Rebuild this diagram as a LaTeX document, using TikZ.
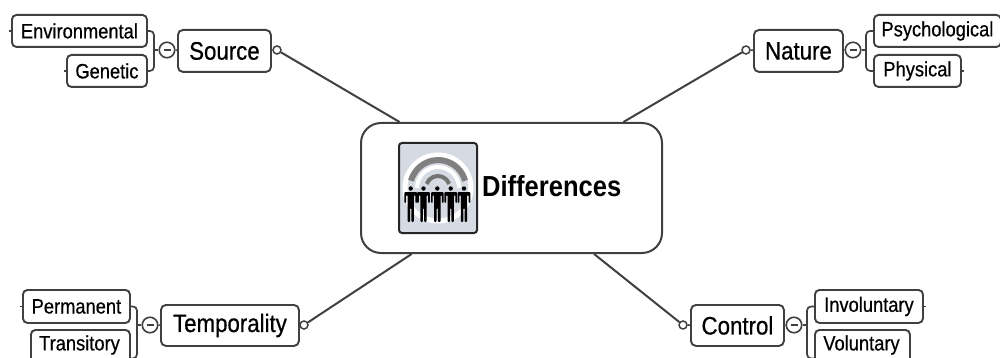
\documentclass[tikz,border=0pt]{standalone}
\usepackage{fontspec}
\setmainfont[FakeStretch=0.88]{Liberation Sans}
\newfontfamily\labelfont[FakeBold=0.6,FakeStretch=0.88]{Liberation Sans}
\definecolor{ink}{HTML}{404040}
\definecolor{iconbg}{HTML}{D6DAE2}
\tikzset{
  x=1pt,y=-1pt,
  box/.style={draw=ink,line width=1.9pt,rounded corners=4.5pt,fill=white,inner sep=0pt,text=black,anchor=north west},
  leaflabel/.style={box,font=\labelfont\fontsize{20.8}{22}\selectfont},
  mainlabel/.style={box,font=\labelfont\fontsize{25.3}{27}\selectfont,rounded corners=5pt},
  conn/.style={draw=ink,line width=1.6pt},
  link/.style={draw=ink,line width=2pt},
  bracket/.style={draw=ink,line width=1.7pt,rounded corners=4pt},
  tick/.style={draw=ink,line width=1.4pt},
  dotnode/.style={circle,draw=ink,line width=1.5pt,fill=white,minimum size=8pt,inner sep=0pt},
  minusnode/.style={circle,draw=ink,line width=1.6pt,fill=white,minimum size=15.5pt,inner sep=0pt},
  bar/.style={draw=ink,line width=2pt},
  person/.pic={
    \fill[black] (0,-15.5) circle (2.2);
    \fill[black,rounded corners=1pt] (-6.3,-12) -- (6.3,-12) -- (6.3,-1) -- (4.6,-1) -- (4.6,-9) -- (3.2,-9) -- (3.2,18) -- (0.6,18) -- (0.6,4) -- (-0.6,4) -- (-0.6,18) -- (-3.2,18) -- (-3.2,-9) -- (-4.6,-9) -- (-4.6,-1) -- (-6.3,-1) -- cycle;
  }
}
\newcommand{\boxat}[7]{\node[#1,minimum width=#5-#3,minimum height=#6-#4] (#2) at (#3,#4) {#7};}
\begin{document}
\begin{tikzpicture}
\useasboundingbox (0,0) rectangle (1000,358);
\clip (0,0) rectangle (1000,358);
\fill[white] (0,0) rectangle (1000,358);

% centre
\node[draw=ink,line width=2pt,rounded corners=20pt,fill=white,minimum width=301pt,minimum height=130pt,inner sep=0pt] (center) at (511.5,188) {};
\node[draw=black!85,line width=2pt,rounded corners=3pt,fill=iconbg,minimum width=78pt,minimum height=90pt,inner sep=0pt] (icon) at (438,188) {};
\draw[white,line width=5pt] (405,188) arc[start angle=180,end angle=540,radius=33];
\draw[black!50,line width=6pt] (411,180.8) arc[start angle=195,end angle=345,radius=28];
\draw[white,line width=4pt] (417,188) arc[start angle=180,end angle=360,radius=21];
\draw[black!55,line width=4pt] (426.7,183.9) arc[start angle=200,end angle=340,radius=12];
\foreach \px in {410.7,423.5,437.3,450.7,464}{\pic at (\px,204) {person};}
\node[font=\bfseries\fontsize{29}{31}\selectfont,inner sep=0pt,anchor=west] (difftext) at (482,186.5) {Differences};

% main nodes
\boxat{mainlabel}{source}{177}{29}{270}{71}{Source}
\boxat{mainlabel}{nature}{753}{29}{842}{71}{Nature}
\boxat{mainlabel}{temporality}{160}{304}{298}{345}{Temporality}
\boxat{mainlabel}{control}{690}{304}{783}{345}{Control}

% leaves
\boxat{leaflabel}{environmental}{11}{14}{146}{46}{Environmental}
\boxat{leaflabel}{genetic}{66}{54}{146}{86}{Genetic}
\boxat{leaflabel}{psychological}{873}{14}{1000}{46}{Psychological}
\boxat{leaflabel}{physical}{873}{54}{960}{86}{Physical}
\boxat{leaflabel}{permanent}{22}{289}{129}{322}{Permanent}
\boxat{leaflabel}{transitory}{30}{329}{129}{372}{}
\node[font=\labelfont\fontsize{20.8}{22}\selectfont,inner sep=0pt] (transitorytext) at (79.5,345) {Transitory};
\boxat{leaflabel}{involuntary}{814}{289}{922}{322}{Involuntary}
\boxat{leaflabel}{voluntary}{814}{329}{909}{372}{}
\node[font=\labelfont\fontsize{20.8}{22}\selectfont,inner sep=0pt] (voluntarytext) at (861.5,345) {Voluntary};

% collapse buttons and dots
\node[minusnode] (msource) at (167,50) {};
\node[minusnode] (mnature) at (853,50) {};
\node[minusnode] (mtemporality) at (150,325) {};
\node[minusnode] (mcontrol) at (794,325) {};
\foreach \m in {msource,mnature,mtemporality,mcontrol}{\draw[bar] ([xshift=-3.5pt]\m.center) -- ([xshift=3.5pt]\m.center);}
\node[dotnode] (dsource) at (277,50) {};
\node[dotnode] (dnature) at (746,50) {};
\node[dotnode] (dtemporality) at (304,325) {};
\node[dotnode] (dcontrol) at (683,325) {};

% links to centre
\draw[link] (dsource) -- (center);
\draw[link] (dnature) -- (center);
\draw[link] (dtemporality) -- (center);
\draw[link] (dcontrol) -- (center);

% dots and buttons to main
\draw[conn] (dsource) -- (source);
\draw[conn] (dnature) -- (nature);
\draw[conn] (dtemporality) -- (temporality);
\draw[conn] (dcontrol) -- (control);
\draw[conn] (msource) -- (source);
\draw[conn] (mnature) -- (nature);
\draw[conn] (mtemporality) -- (temporality);
\draw[conn] (mcontrol) -- (control);

% brackets
\draw[bracket] (environmental.east) -| ([xshift=-4.5pt]msource.west) |- (genetic.east);
\draw[conn] ([xshift=-4.5pt]msource.west) -- (msource.west);
\draw[bracket] (psychological.west) -| ([xshift=4.5pt]mnature.east) |- (physical.west);
\draw[conn] ([xshift=4.5pt]mnature.east) -- (mnature.east);
\draw[bracket] (permanent.east) -| ([xshift=-4.5pt]mtemporality.west) |- ([yshift=-7pt]transitory.east);
\draw[conn] ([xshift=-4.5pt]mtemporality.west) -- (mtemporality.west);
\draw[bracket] (involuntary.west) -| ([xshift=4.5pt]mcontrol.east) |- ([yshift=-7pt]voluntary.west);
\draw[conn] ([xshift=4.5pt]mcontrol.east) -- (mcontrol.east);

% end ticks
\draw[tick] (environmental.west) -- ++(-2,0);
\draw[tick] (genetic.west) -- ++(-2,0);
\draw[tick] (physical.east) -- ++(2,0);
\draw[tick] (permanent.west) -- ++(-2,0);
\draw[tick] ([yshift=-7pt]transitory.west) -- ++(-2,0);
\draw[tick] (involuntary.east) -- ++(2,0);
\draw[tick] ([yshift=-7pt]voluntary.east) -- ++(2,0);
\end{tikzpicture}
\end{document}
